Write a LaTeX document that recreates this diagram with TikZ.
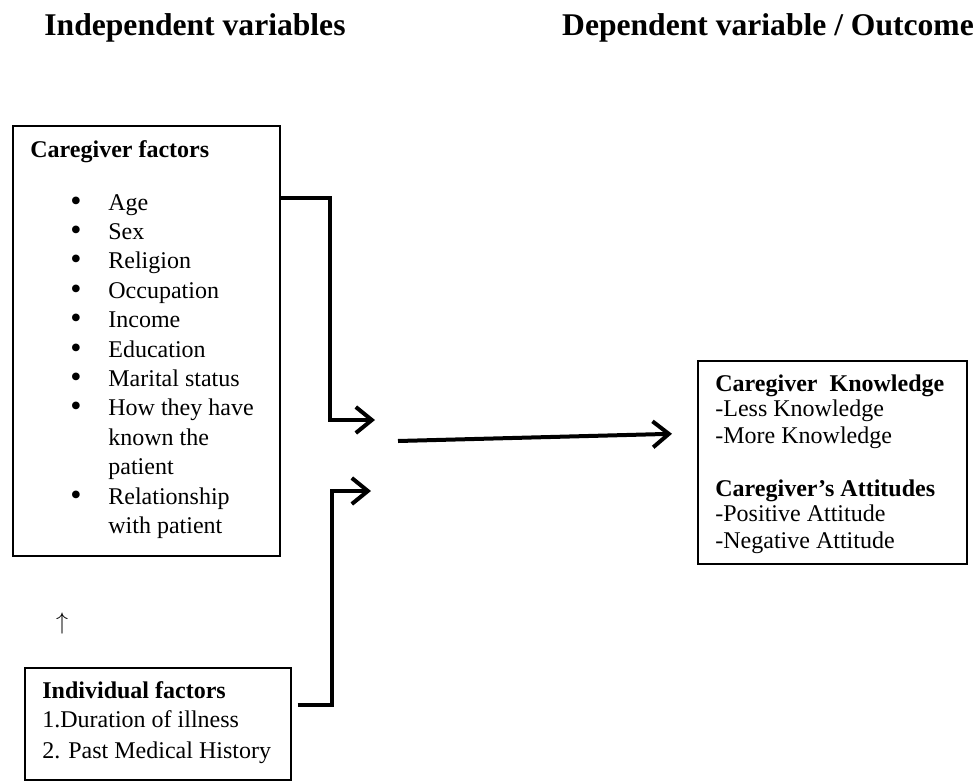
\documentclass[tikz,border=0pt]{standalone}
\usepackage{fontspec}
\setmainfont{Liberation Serif}
\usepackage{tikz}
\usetikzlibrary{arrows.meta}

\tikzset{
  box/.style={draw,thick,rectangle,inner sep=0pt,anchor=north west},
  txt/.style={anchor=base west,inner sep=0pt,font=\fontsize{12}{14}\selectfont},
  head/.style={txt,font=\fontsize{12}{14}\selectfont\bfseries},
  dot/.style={anchor=base,inner sep=0pt,font=\fontsize{16}{16}\selectfont},
  title/.style={inner sep=0pt,font=\fontsize{15.8}{19}\selectfont\bfseries},
  conn/.style={line width=2pt,-{Straight Barb[length=8pt,width=13pt]}}
}

\begin{document}
\begin{tikzpicture}[x=0.5pt,y=-0.5pt]
\path[fill=white,use as bounding box] (0,0) rectangle (978,781);

\node[title] (indep) at (195,28) {Independent variables};
\node[title] (dep) at (768,28) {Dependent variable / Outcome};

\node[box,minimum width=133.5pt,minimum height=215pt] (cg) at (12,125) {};
\node[head] (cghead) at (30,157) {Caregiver factors};
\foreach \txt [count=\i from 0] in {Age,Sex,Religion,Occupation,Income,Education,Marital status,How they have,known the,patient,Relationship,with patient}
  \node[txt] (cf\i) at (108,{210+29.4*\i}) {\txt};
\foreach \i in {0,...,7,10}
  \node[dot] (bul\i) at (76,{211+29.4*\i}) {\textbullet};

\node[font=\fontsize{12.5}{14}\selectfont,inner sep=0pt] (up) at (62,623) {$\uparrow$};

\node[box,minimum width=133pt,minimum height=56pt] (ind) at (24,667) {};
\node[head] (indhead) at (42,698) {Individual factors};
\node[txt] (ind1) at (42,727) {1.Duration of illness};
\node[txt] (ind2) at (42,758) {2. Past Medical History};

\node[box,minimum width=134.5pt,minimum height=101.5pt] (out) at (697,360) {};
\node[head] (kn) at (715,391) {Caregiver\ \ Knowledge};
\node[txt] (kn1) at (715,416) {-Less Knowledge};
\node[txt] (kn2) at (715,443) {-More Knowledge};
\node[head] (att) at (715,496) {Caregiver's Attitudes};
\node[txt] (att1) at (715,521) {-Positive Attitude};
\node[txt] (att2) at (715,548) {-Negative Attitude};

\coordinate (j1) at (375,420);
\coordinate (j2) at (371,491);
\coordinate (m1) at (398,441);

\draw[conn] ([yshift=-36.5pt]cg.north east) -- ++(49,0) |- (j1);
\draw[conn] ([xshift=3pt,yshift=9.5pt]ind.east) -- ++(34,0) |- (j2);
\draw[conn] (m1) -- ([xshift=-12.5pt,yshift=14.25pt]out.west);

\end{tikzpicture}
\end{document}
